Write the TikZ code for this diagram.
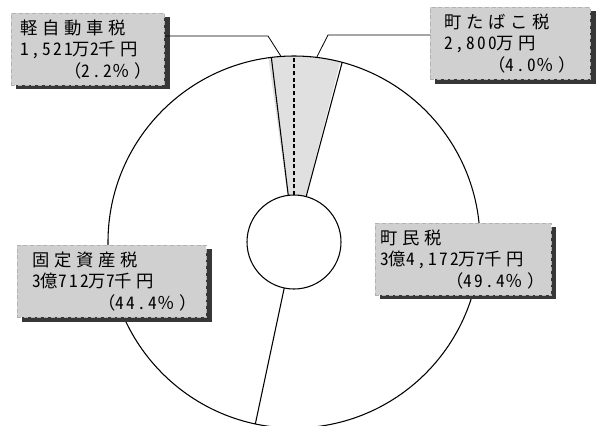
\documentclass[tikz,border=0pt]{standalone}
\usepackage{fontspec}
\setmainfont{Noto Sans CJK JP}[LetterSpace=27]
\newfontfamily\hw{Noto Sans CJK JP}[RawFeature=+hwid, LetterSpace=13.5]
\definecolor{backgray}{RGB}{55,55,55}
\definecolor{boxgray}{RGB}{208,208,208}

\begin{document}
\begin{tikzpicture}[
    x=.75pt, y=.75pt,
    lbl/.style={
        draw=black!30, densely dashed, fill=boxgray, anchor=north west,
        align=left, inner ysep=0pt, minimum height=54pt,
        font=\fontsize{13pt}{16pt}\selectfont
    },
    backing/.style={fill=backgray, draw=none},
    pie/.style={
        draw, circle, line width=.8pt, inner sep=0pt, outer sep=0pt, minimum size=279pt
    },
    hole/.style={
        draw, circle, fill=white, line width=.8pt, inner sep=0pt, outer sep=0pt, minimum size=70.5pt
    },
    cut/.style={fill=black!12},
    rim/.style={line width=.8pt},
    lead/.style={line width=.6pt}
]

    \useasboundingbox (0,0) rectangle (600,-425);

    \coordinate (c) at (294,-242);
    \fill[cut] (c) -- ++(75.6:186) arc[start angle=75.6, end angle=90, radius=186] -- cycle;
    \fill[cut] (c) -- ++(90:186) arc[start angle=90, end angle=97.92, radius=186] -- cycle;

    \node[pie](pie) at (c){};
    \node[hole](hole) at (c){};

    \draw[rim] (hole.75.6) to (pie.75.6);
    \draw[rim, densely dashed] (hole.90) to (pie.90);
    \draw[rim] (hole.97.92) to (pie.97.92);
    \draw[rim] (hole.-102.24) to (pie.-102.24);

    \fill[backing] (16,-17) rectangle (170,-89);
    \fill[backing] (435,-11) rectangle (596,-84);
    \fill[backing] (22,-249) rectangle (212,-322);
    \fill[backing] (380,-227) rectangle (556,-299);

    \node[lbl, inner xsep=6.75pt, text width=101.25pt](kei) at (11,-13){
        軽自動車税\\
        {\hw 1,521}万{\hw 2}千円\\
        　　（{\hw 2.2}％）
    };
    \node[lbl, inner xsep=10.5pt, text width=99pt](tab) at (430,-7){
        町たばこ税\\
        {\hw 2,800}万円\\
        　　（{\hw 4.0}％）
    };
    \node[lbl, inner xsep=11.25pt, text width=119.25pt](kot) at (17,-245){
        固定資産税\\
        {\hw 3}億{\hw 712}万{\hw 7}千円\\
        　　　（{\hw 44.4}％）
    };
    \node[lbl, inner xsep=3.75pt, text width=124.5pt](cho) at (375,-223){
        町民税\\
        {\hw 3}億{\hw 4,172}万{\hw 7}千円\\
        　　　（{\hw 49.4}％）
    };

    \coordinate (kelb) at (268,-36);
    \coordinate (telb) at (328,-35);
    \draw[lead] (kei.east |- kelb) to (kelb) to (pie.94);
    \draw[lead] (tab.west |- telb) to (telb) to (pie.83.5);

\end{tikzpicture}
\end{document}
